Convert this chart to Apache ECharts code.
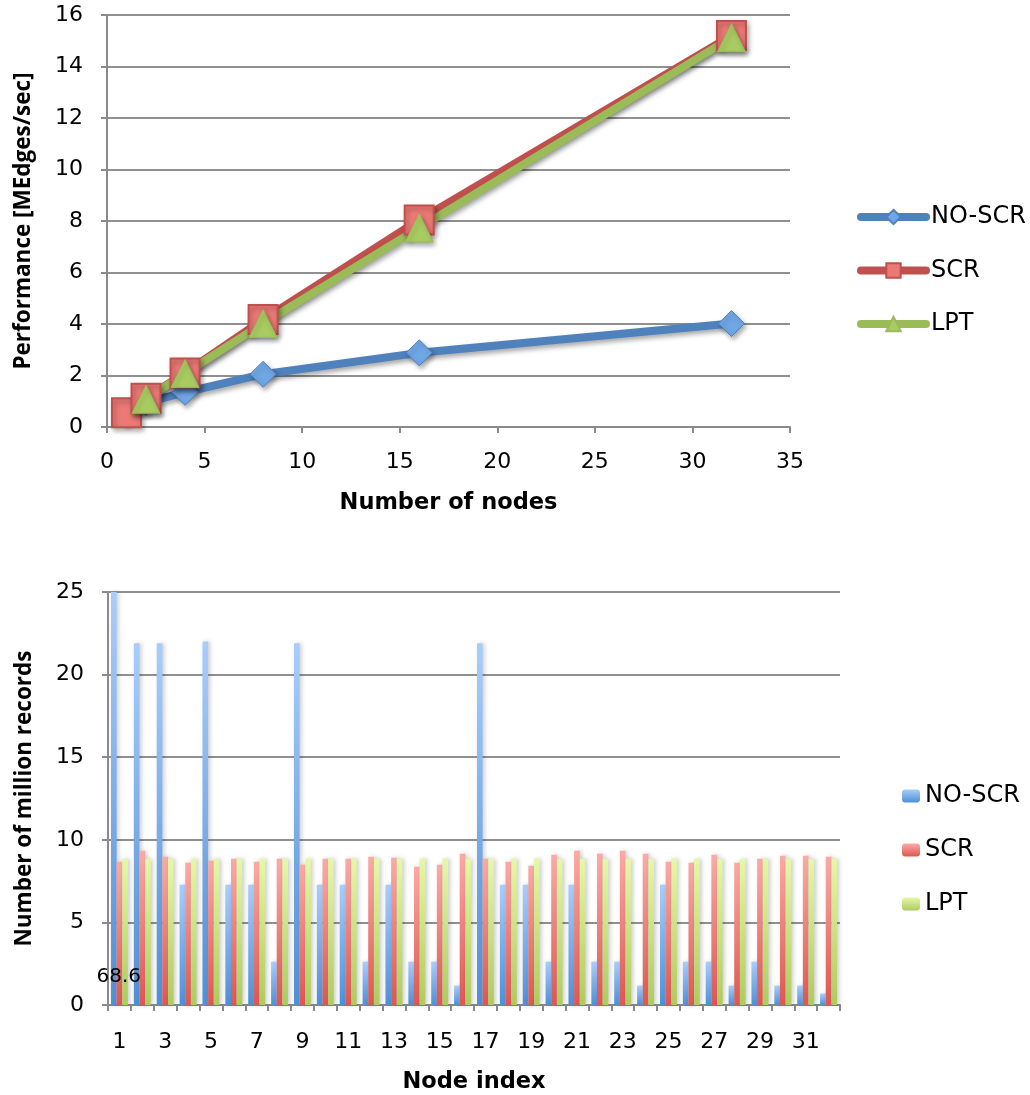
<!DOCTYPE html>
<html>
<head>
<meta charset="utf-8">
<script src="https://cdn.jsdelivr.net/npm/echarts@6/dist/echarts.min.js"></script>
<style>
html,body{margin:0;padding:0;background:#fff;}
#c1{position:absolute;left:0;top:0;width:1030px;height:545px;}
#c2{position:absolute;left:0;top:545px;width:1030px;height:550px;}
</style>
</head>
<body>
<div id="c1"></div>
<div id="c2"></div>
<script>
// ---- Top chart data ----
const seriesNames = ['NO-SCR', 'SCR', 'LPT'];
const perfNoScr = [[1, 0.55], [2, 0.95], [4, 1.35], [8, 2.05], [16, 2.88], [32, 4.02]];
const perfScr = [[1, 0.55], [2, 1.12], [4, 2.1], [8, 4.17], [16, 8.04], [32, 15.2]];
const perfLpt = [[2, 1.08], [4, 2.08], [8, 4.02], [16, 7.73], [32, 15.12]];

// ---- Bottom chart data ----
const nodeIndex = Array.from({length: 32}, (_, i) => String(i + 1));
const recNoScr = [68.6, 21.9, 21.9, 7.28, 22.0, 7.28, 7.28, 2.62, 21.9, 7.28,
                  7.28, 2.62, 7.28, 2.62, 2.62, 1.17, 21.9, 7.28, 7.28, 2.62,
                  7.28, 2.62, 2.62, 1.17, 7.28, 2.62, 2.62, 1.17, 2.62, 1.17,
                  1.17, 0.69];
const recScr = [8.67, 9.33, 8.97, 8.61, 8.73, 8.85, 8.67, 8.85, 8.49, 8.85,
                8.85, 8.97, 8.91, 8.37, 8.49, 9.15, 8.85, 8.67, 8.43, 9.09,
                9.33, 9.15, 9.33, 9.15, 8.67, 8.61, 9.09, 8.61, 8.85, 9.03,
                9.03, 8.97];
const recLpt = [8.85, 8.85, 8.85, 8.85, 8.85, 8.85, 8.85, 8.85, 8.85, 8.85,
                8.85, 8.85, 8.85, 8.85, 8.85, 8.85, 8.85, 8.85, 8.85, 8.85,
                8.85, 8.85, 8.85, 8.85, 8.85, 8.85, 8.85, 8.85, 8.85, 8.85,
                8.85, 8.85];
const clippedLabel = '68.6';

const FONT_H = 'DejaVu Sans';
const FONT_V = 'Open Sans';
const AXIS_COL = '#8a8a8a';
const GRID_COL = '#909090';

function grad(top, bottom) {
  return {type: 'linear', x: 0, y: 0, x2: 0, y2: 1,
          colorStops: [{offset: 0, color: top}, {offset: 1, color: bottom}]};
}

const axisLine = {show: true, lineStyle: {color: AXIS_COL, width: 2}};
const axisTick = {show: true, inside: false, length: 6, lineStyle: {color: AXIS_COL, width: 2}};
const tickFont = {color: '#000', fontFamily: FONT_H, fontSize: 22};
const hName = {color: '#000', fontFamily: FONT_H, fontSize: 22.5, fontWeight: 'bold'};
const vName = {color: '#000', fontFamily: FONT_V, fontSize: 22.5, fontWeight: 'bold'};
const legendFont = {color: '#000', fontFamily: FONT_H, fontSize: 24};

// ---------- Top chart ----------
const c1 = echarts.init(document.getElementById('c1'));
const lineShadow = {shadowColor: 'rgba(0,0,0,0.35)', shadowBlur: 5, shadowOffsetX: 2, shadowOffsetY: 3};
c1.setOption({
  animation: false,
  grid: {left: 107, top: 15, width: 683, height: 412, containLabel: false, outerBoundsMode: 'none'},
  legend: {
    orient: 'vertical', left: 852, top: 200, itemGap: 29.5,
    itemWidth: 65, itemHeight: 18,
    textStyle: legendFont,
    lineStyle: {width: 8, cap: 'round'},
    data: seriesNames
  },
  xAxis: {
    type: 'value', min: 0, max: 35, interval: 5,
    axisLine: axisLine, axisTick: axisTick,
    splitLine: {show: false},
    axisLabel: Object.assign({}, tickFont, {margin: 24}),
    name: 'Number of nodes', nameLocation: 'middle', nameGap: 65, nameTextStyle: hName
  },
  yAxis: {
    type: 'value', min: 0, max: 16, interval: 2,
    axisLine: axisLine, axisTick: axisTick,
    splitLine: {show: true, lineStyle: {color: GRID_COL, width: 2}},
    axisLabel: Object.assign({}, tickFont, {margin: 24}),
    name: 'Performance [MEdges/sec]', nameLocation: 'middle', nameGap: 72, nameTextStyle: vName
  },
  series: [
    {name: 'NO-SCR', type: 'line', data: perfNoScr, symbol: 'diamond', symbolSize: 26,
     lineStyle: Object.assign({color: '#4F81BD', width: 8}, lineShadow),
     itemStyle: Object.assign({color: '#6FA6E4', borderColor: '#4F81BD', borderWidth: 1}, lineShadow)},
    {name: 'SCR', type: 'line', data: perfScr, symbol: 'rect', symbolSize: 29,
     lineStyle: Object.assign({color: '#C0504D', width: 8}, lineShadow),
     itemStyle: Object.assign({color: '#EB7A76', borderColor: '#C0504D', borderWidth: 2}, lineShadow)},
    {name: 'LPT', type: 'line', data: perfLpt, symbol: 'triangle', symbolSize: 28,
     lineStyle: Object.assign({color: '#9BBB59', width: 8}, lineShadow),
     itemStyle: Object.assign({color: '#A9CC62', borderColor: '#9BBB59', borderWidth: 1}, lineShadow)}
  ]
});

// ---------- Bottom chart ----------
const c2 = echarts.init(document.getElementById('c2'));
const barShadow = {shadowColor: 'rgba(0,0,0,0.2)', shadowBlur: 4, shadowOffsetX: 2, shadowOffsetY: 0};
const noScrData = recNoScr.map((v, i) => i === 0 ? {
  value: v,
  label: {show: true, formatter: clippedLabel, position: 'insideBottom', offset: [5, -13],
          color: '#000', fontFamily: FONT_H, fontSize: 20}
} : v);
c2.setOption({
  animation: false,
  grid: {left: 108, top: 47, width: 732, height: 413, containLabel: false, outerBoundsMode: 'none'},
  legend: {
    orient: 'vertical', left: 897, top: 234, itemGap: 30,
    itemWidth: 18, itemHeight: 13,
    textStyle: legendFont,
    data: seriesNames
  },
  xAxis: {
    type: 'category', data: nodeIndex,
    axisLine: axisLine,
    axisTick: Object.assign({}, axisTick, {alignWithLabel: false, interval: 0}),
    axisLabel: Object.assign({}, tickFont, {interval: 1, margin: 26}),
    splitLine: {show: false},
    name: 'Node index', nameLocation: 'middle', nameGap: 66, nameTextStyle: hName
  },
  yAxis: {
    type: 'value', min: 0, max: 25, interval: 5,
    axisLine: axisLine, axisTick: axisTick,
    splitLine: {show: true, lineStyle: {color: GRID_COL, width: 2}},
    axisLabel: Object.assign({}, tickFont, {margin: 24}),
    name: 'Number of million records', nameLocation: 'middle', nameGap: 72, nameTextStyle: vName
  },
  series: [
    {name: 'NO-SCR', type: 'bar', data: noScrData, barGap: '0%', barCategoryGap: '26%', clip: true,
     itemStyle: Object.assign({color: grad('#A9CDFB', '#4F8FD6')}, barShadow)},
    {name: 'SCR', type: 'bar', data: recScr, barGap: '0%', barCategoryGap: '26%',
     itemStyle: Object.assign({color: grad('#FBAAA6', '#DC5752')}, barShadow)},
    {name: 'LPT', type: 'bar', data: recLpt, barGap: '0%', barCategoryGap: '26%',
     itemStyle: Object.assign({color: grad('#E5F8A8', '#AECB5E')}, barShadow)}
  ]
});
</script>
</body>
</html>
